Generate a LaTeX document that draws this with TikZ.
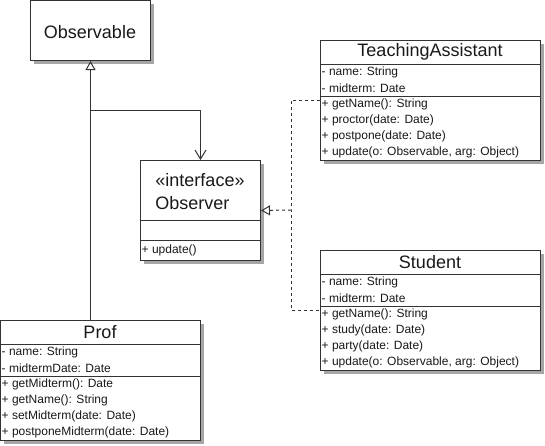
\documentclass[tikz,border=0pt]{standalone}
\usepackage{fontspec}
\setmainfont{Liberation Sans}
\usepackage{tikz}
\usetikzlibrary{arrows.meta}

\begin{document}
\begin{tikzpicture}[x=1pt,y=-1pt,
        every node/.style={text=black!90},
        classbox/.style={draw=black!80,fill=white,line width=1pt,anchor=north west,inner sep=0pt},
        shadowfill/.style={fill=black!35,draw=none},
        title/.style={font=\fontsize{18}{23}\selectfont},
        member/.style={anchor=west,inner sep=0pt,font=\fontsize{12}{14}\selectfont},
        sep/.style={draw=black!80,line width=1pt},
        generalize/.style={draw=black!80,line width=1pt,-{Triangle[open,width=10pt,length=9pt]}},
        navigate/.style={draw=black!80,line width=1pt,-{Straight Barb[width=11pt,length=9pt]}},
        dashline/.style={draw=black!80,line width=1pt,dash pattern=on 3pt off 3pt},
        realize/.style={dashline,-{Triangle[open,width=10pt,length=9pt]}}]
        \useasboundingbox (0,0) rectangle (545,445);
        % shadows
        \fill[shadowfill] (34,4) rectangle (154,64);
        \fill[shadowfill] (144,164) rectangle (264,264);
        \fill[shadowfill] (4,324) rectangle (204,444);
        \fill[shadowfill] (324,44) rectangle (544,164);
        \fill[shadowfill] (324,254) rectangle (544,374);
        % Observable
        \node[classbox,minimum width=120pt,minimum height=60pt] (observable) at (30,0) {};
        \node[title] (observable-name) at (90,32) {Observable};
        % Observer
        \node[classbox,minimum width=120pt,minimum height=100pt] (observer) at (140,160) {};
        \node[title,align=left] (observer-name) at (200,191.5) {«interface»\\Observer};
        \draw[sep] (140,220) -- (260,220);
        \draw[sep] (140,240) -- (260,240);
        \node[member] (observer-o1) at (141.5,250) {+ update()};
        % Prof
        \node[classbox,minimum width=200pt,minimum height=120pt] (prof) at (0,320) {};
        \node[title] (prof-name) at (100,332) {Prof};
        \draw[sep] (0,344) -- (200,344);
        \draw[sep] (0,376) -- (200,376);
        \node[member] (prof-a1) at (1.5,352) {- name: String};
        \node[member] (prof-a2) at (1.5,368) {- midtermDate: Date};
        \node[member] (prof-o1) at (1.5,384) {+ getMidterm(): Date};
        \node[member] (prof-o2) at (1.5,400) {+ getName(): String};
        \node[member] (prof-o3) at (1.5,416) {+ setMidterm(date: Date)};
        \node[member] (prof-o4) at (1.5,432) {+ postponeMidterm(date: Date)};
        % TeachingAssistant
        \node[classbox,minimum width=220pt,minimum height=120pt] (ta) at (320,40) {};
        \node[title] (ta-name) at (430,52) {TeachingAssistant};
        \draw[sep] (320,64) -- (540,64);
        \draw[sep] (320,96) -- (540,96);
        \node[member] (ta-a1) at (321.5,72) {- name: String};
        \node[member] (ta-a2) at (321.5,88) {- midterm: Date};
        \node[member] (ta-o1) at (321.5,104) {+ getName(): String};
        \node[member] (ta-o2) at (321.5,120) {+ proctor(date: Date)};
        \node[member] (ta-o3) at (321.5,136) {+ postpone(date: Date)};
        \node[member] (ta-o4) at (321.5,152) {+ update(o: Observable, arg: Object)};
        % Student
        \node[classbox,minimum width=220pt,minimum height=120pt] (student) at (320,250) {};
        \node[title] (student-name) at (430,262) {Student};
        \draw[sep] (320,274) -- (540,274);
        \draw[sep] (320,306) -- (540,306);
        \node[member] (student-a1) at (321.5,282) {- name: String};
        \node[member] (student-a2) at (321.5,298) {- midterm: Date};
        \node[member] (student-o1) at (321.5,314) {+ getName(): String};
        \node[member] (student-o2) at (321.5,330) {+ study(date: Date)};
        \node[member] (student-o3) at (321.5,346) {+ party(date: Date)};
        \node[member] (student-o4) at (321.5,362) {+ update(o: Observable, arg: Object)};
        % relations
        \draw[generalize] (observable.south |- prof.north) -- (observable.south);
        \coordinate (branch) at (90,110);
        \draw[navigate] (branch) -| (observer.north);
        \coordinate (junction) at (291,210);
        \draw[dashline] (ta.west |- 0,100) -| (junction) |- (student.west |- 0,310);
        \draw[realize] (junction) -- (observer.east);
\end{tikzpicture}
\end{document}
